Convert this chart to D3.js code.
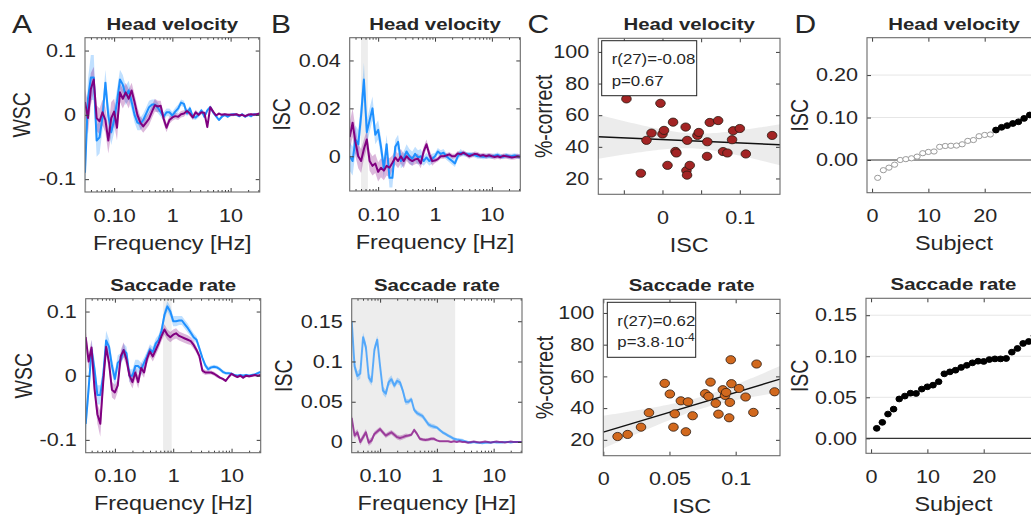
<!DOCTYPE html>
<html>
<head>
<meta charset="utf-8">
<script src="https://cdn.jsdelivr.net/npm/d3@7"></script>
<style>
body{margin:0;background:#fff}
text{font-family:"Liberation Sans",Arial,Helvetica,sans-serif;fill:#262626}
</style>
</head>
<body>
<svg id="fig" width="1031" height="519"></svg>
<script>
// ---- frequency grid (Hz) shared by the spectral panels ----
var freq = [0.0316,0.0355,0.0398,0.0447,0.0501,0.0562,0.0631,0.0708,0.0794,0.0891,
  0.1,0.112,0.126,0.141,0.158,0.178,0.2,0.224,0.251,0.282,
  0.316,0.355,0.398,0.447,0.501,0.562,0.631,0.708,0.794,0.891,
  1,1.12,1.26,1.41,1.58,1.78,2,2.24,2.51,2.82,
  3.16,3.55,3.98,4.47,5.01,5.62,6.31,7.08,7.94,8.91,
  10,11.2,12.6,14.1,15.8,17.8,20,22.4,25.1,28.2,31.6];
var freqTicks = [0.1, 1, 10];
var freqTickLabels = ["0.10", "1", "10"];

// A, head velocity: within-subject coherence
var hvWscBlue = [-0.09,0.025,0.058,0.058,-0.04,-0.035,-0.004,0.05,-0.001,-0.027,
  -0.008,0.02,0.055,0.047,0.03,0.038,0.02,0,-0.012,-0.014,
  -0.008,0.002,0.012,0.016,0.016,0.011,0.004,-0.003,0.004,0.004,
  -0.001,0.005,0.01,0.019,0.017,0.002,0.01,-0.003,-0.004,0,
  0.007,-0.003,0.007,0.012,0.004,-0.002,-0.008,-0.003,0,-0.003,
  0,0.001,0,-0.002,0.001,-0.003,0,-0.002,0.001,0,0.002];
var hvWscBlueErr = [0.03,0.03,0.035,0.035,0.025,0.025,0.02,0.02,0.02,0.02,
  0.02,0.02,0.015,0.015,0.015,0.015,0.012,0.012,0.012,0.01,
  0.01,0.01,0.01,0.008,0.008,0.008,0.007,0.007,0.006,0.006,
  0.006,0.006,0.006,0.005,0.005,0.005,0.004,0.004,0.004,0.004,
  0.003,0.003,0.003,0.003,0.003,0.002,0.002,0.002,0.002,0.002,
  0.002,0.002,0.002,0.002,0.002,0.002,0.002,0.002,0.002,0.002,0.002];
var hvWscPurple = [0.02,-0.005,0.04,0.055,-0.005,-0.01,0.004,-0.008,-0.04,-0.005,
  0.005,-0.02,0.035,0.025,0.035,0.025,0.038,0.02,0,-0.012,
  -0.018,-0.012,-0.006,0.005,0.015,0.013,0.014,-0.006,-0.02,-0.008,
  -0.004,-0.002,-0.003,0.001,0.002,0.006,0.002,-0.004,0.004,0,
  0.004,0.003,-0.019,0.012,0.005,-0.001,0.002,0,0.001,0,
  0,0,0.001,-0.001,0,-0.002,0,0.001,0,0.001,0.002];
var hvWscPurpleErr = [0.02,0.025,0.025,0.02,0.02,0.02,0.02,0.02,0.02,0.025,
  0.02,0.02,0.015,0.015,0.015,0.015,0.012,0.012,0.012,0.01,
  0.01,0.01,0.01,0.01,0.01,0.009,0.008,0.008,0.007,0.006,
  0.005,0.005,0.005,0.005,0.005,0.004,0.004,0.004,0.004,0.003,
  0.003,0.003,0.003,0.003,0.003,0.002,0.002,0.002,0.002,0.002,
  0.002,0.002,0.002,0.002,0.002,0.002,0.002,0.002,0.002,0.002,0.002];

// A, saccade rate: within-subject coherence
var srWscBlue = [-0.075,-0.02,0.041,0.01,-0.03,-0.03,0,0.055,0.045,0.015,
  -0.005,0.02,0.025,0.04,0.035,0,0,0.015,0.015,0.01,
  0.02,0.03,0.041,0.037,0.05,0.056,0.07,0.095,0.108,0.1,
  0.085,0.085,0.086,0.086,0.08,0.074,0.067,0.06,0.056,0.042,
  0.028,0.016,0.01,0.013,0.014,0.013,0.01,0.006,0.004,0.004,
  0.003,0.001,0,0.001,0,0.001,0,0.001,0.002,0.004,0.006];
var srWscBlueErr = [0.015,0.02,0.015,0.015,0.015,0.015,0.015,0.015,0.012,0.012,
  0.012,0.012,0.01,0.01,0.01,0.01,0.01,0.01,0.01,0.01,
  0.008,0.008,0.008,0.008,0.008,0.008,0.008,0.008,0.008,0.008,
  0.008,0.008,0.007,0.007,0.007,0.007,0.006,0.006,0.005,0.005,
  0.004,0.004,0.004,0.003,0.003,0.003,0.003,0.003,0.002,0.002,
  0.002,0.002,0.002,0.002,0.002,0.002,0.002,0.002,0.002,0.002,0.002];
var srWscPurple = [0.06,0.022,0.044,-0.02,-0.06,-0.075,-0.01,0.045,0.02,-0.022,
  -0.026,-0.015,0.03,0.04,0.025,0,-0.01,0.005,-0.01,0.012,
  0.005,0.026,0.038,0.03,0.04,0.05,0.062,0.072,0.064,0.06,
  0.064,0.066,0.062,0.06,0.058,0.056,0.054,0.048,0.04,0.03,
  0.008,0.005,0.005,0.005,0.003,0,-0.003,-0.005,-0.008,-0.002,
  0.003,0,-0.002,0,-0.003,0,-0.001,0,0.001,0,0.001];
var srWscPurpleErr = [0.012,0.012,0.012,0.012,0.015,0.02,0.015,0.012,0.012,0.012,
  0.012,0.01,0.01,0.012,0.01,0.01,0.01,0.01,0.01,0.008,
  0.008,0.008,0.008,0.008,0.008,0.008,0.008,0.008,0.008,0.008,
  0.008,0.008,0.007,0.007,0.007,0.007,0.006,0.006,0.005,0.005,
  0.004,0.004,0.003,0.003,0.003,0.003,0.002,0.002,0.002,0.002,
  0.002,0.002,0.002,0.002,0.002,0.002,0.002,0.002,0.002,0.002,0.002];

// B, head velocity: inter-subject correlation spectrum
var hvIscBlue = [0,-0.002,0.007,0.005,0.017,0.032,0.01,0.015,0.02,0.009,
  0.011,0.004,-0.005,0.005,-0.009,-0.009,0.004,0.006,-0.002,-0.001,
  0.002,0,-0.001,0.001,-0.0005,0,-0.002,-0.0005,-0.002,-0.001,
  0,0.002,0.001,0.0015,0,-0.001,-0.002,-0.003,0,0.0015,
  0.001,0.0008,0.0008,0.0007,0.0005,0,0,-0.0002,0,0,
  0,0.0002,0.0006,0,-0.0002,0.0004,0,0.0001,0.0003,0,-0.0002];
var hvIscBlueErr = [0.006,0.006,0.006,0.006,0.006,0.007,0.005,0.005,0.005,0.004,
  0.004,0.004,0.004,0.004,0.004,0.004,0.003,0.003,0.003,0.003,
  0.003,0.003,0.003,0.003,0.003,0.003,0.002,0.002,0.002,0.002,
  0.0015,0.0015,0.0015,0.0015,0.0015,0.0015,0.0015,0.0015,0.0015,0.0015,
  0.001,0.001,0.001,0.001,0.001,0.001,0.001,0.001,0.001,0.001,
  0.001,0.001,0.001,0.001,0.001,0.001,0.001,0.001,0.001,0.001,0.001];
var hvIscPurple = [0.008,0.014,0.006,0,-0.002,0.003,0.007,-0.002,-0.004,-0.003,
  -0.0065,-0.0048,-0.006,-0.004,-0.0048,-0.0027,-0.0005,-0.002,0,-0.002,
  0,-0.0013,-0.002,-0.0013,-0.001,-0.003,0.002,0.005,0.0008,-0.002,
  -0.0018,-0.0012,0,0,0.0003,0.0008,0,0,0.0012,0.0008,
  0.0015,0.0008,0,0.0005,0.001,0.0008,0.0002,0.0005,0,0.0004,
  0,-0.0003,0,-0.0004,0.0002,0,-0.0002,-0.0005,-0.0003,0,-0.0002];
var hvIscPurpleErr = [0.006,0.006,0.006,0.005,0.005,0.004,0.004,0.004,0.004,0.004,
  0.004,0.004,0.004,0.004,0.004,0.003,0.003,0.003,0.003,0.003,
  0.002,0.002,0.002,0.002,0.002,0.002,0.002,0.002,0.002,0.002,
  0.001,0.001,0.001,0.001,0.001,0.001,0.001,0.001,0.001,0.001,
  0.001,0.001,0.001,0.001,0.001,0.001,0.001,0.001,0.001,0.001,
  0.001,0.001,0.001,0.001,0.001,0.001,0.001,0.001,0.001,0.001,0.001];

// B, saccade rate: inter-subject correlation spectrum
var srIscBlue = [0.15,0.094,0.082,0.085,0.13,0.118,0.08,0.075,0.115,0.127,
  0.094,0.064,0.06,0.074,0.078,0.07,0.076,0.074,0.064,0.05,
  0.05,0.053,0.04,0.036,0.034,0.032,0.027,0.022,0.02,0.019,
  0.018,0.015,0.012,0.01,0.008,0.006,0.004,0.003,0.0025,0.002,
  0.001,0,-0.001,0,-0.001,-0.001,-0.0015,-0.001,-0.0005,-0.001,
  0,-0.0005,-0.0005,-0.0005,0,0,-0.0005,0,0,0,0];
var srIscBlueErr = [0.008,0.006,0.006,0.006,0.006,0.006,0.005,0.005,0.005,0.005,
  0.005,0.005,0.005,0.005,0.005,0.004,0.004,0.004,0.004,0.004,
  0.003,0.003,0.003,0.003,0.003,0.003,0.003,0.003,0.003,0.003,
  0.002,0.002,0.002,0.002,0.002,0.002,0.002,0.002,0.002,0.002,
  0.001,0.001,0.001,0.001,0.001,0.001,0.001,0.001,0.001,0.001,
  0.001,0.001,0.001,0.001,0.001,0.001,0.001,0.001,0.001,0.001,0.001];
var srIscPurple = [0.03,0.008,0.012,0,0.006,0.012,-0.001,0.002,0.01,0.013,
  0.016,0.012,0.008,0.01,0.012,0.009,0.006,0.005,0.006,0.0075,
  0.008,0.009,0.015,0.01,0.004,0.003,0.0025,0.003,0.004,0.004,
  0.002,0.001,0.001,0.001,0.001,0,0.001,0,0.001,0,
  0,-0.001,0,0.0005,0,-0.0005,0,0.0005,0,-0.0005,
  0,0.0005,0,0,-0.0005,0,0.0005,0,0,0,0];
var srIscPurpleErr = [0.005,0.004,0.004,0.004,0.004,0.004,0.004,0.004,0.003,0.003,
  0.003,0.003,0.003,0.003,0.003,0.003,0.003,0.003,0.003,0.003,
  0.002,0.002,0.002,0.002,0.002,0.002,0.002,0.002,0.002,0.002,
  0.001,0.001,0.001,0.001,0.001,0.001,0.001,0.001,0.001,0.001,
  0.001,0.001,0.001,0.001,0.001,0.001,0.001,0.001,0.001,0.001,
  0.001,0.001,0.001,0.001,0.001,0.001,0.001,0.001,0.001,0.001,0.001];

// C, ISC vs %-correct (29 subjects)
var hvIsc = [-0.0466,-0.0026,-0.028,-0.0207,-0.0142,0,0.002,0.0137,0.0065,0.0168,
  0.018,0.03,0.032,0.031,0.0318,0.0353,0.0452,0.047,0.058,0.0577,
  0.0612,0.072,0.0784,0.084,0.09,0.0914,0.1,0.1078,0.1418];
var hvCorrect = [70.3,67.5,23.3,44.1,48.7,48.1,50.4,55.6,28.3,37.1,
  36.1,52.5,44.1,25,22.1,28.3,47.2,49.1,43.2,34,
  55.4,56.6,37,36.1,44.5,50.2,51.6,35.5,47.2];
var srIsc = [0.0108,0.0184,0.0285,0.0345,0.0464,0.0503,0.054,0.053,0.0586,0.064,
  0.0624,0.0675,0.077,0.0795,0.081,0.085,0.087,0.0903,0.092,0.0928,
  0.0956,0.0951,0.0963,0.0968,0.1026,0.1075,0.1134,0.1158,0.1294];
var srCorrect = [22.1,23.4,28,37.1,55.6,48.9,36.4,28,44.6,44,
  25.1,35.2,49.1,47.4,56.4,43,36.2,51.6,48,49.9,
  43.6,33.9,70.5,55.4,52.4,47,37.3,67.8,50.3];
var hvStats = ["r(27)=-0.08", "p=0.67"];
var srStats = ["r(27)=0.62", "p=3.8\u00b710", "-4"];

// D, per-subject ISC (sorted)
var subjects = [1,2,3,4,5,6,7,8,9,10,11,12,13,14,15,16,17,18,19,20,21,22,23,24,25,26,27,28,29];
var hvSubjIsc = [-0.042,-0.024,-0.018,-0.011,0,0.002,0.004,0.008,0.016,0.019,
  0.02,0.031,0.033,0.0335,0.034,0.037,0.045,0.047,0.056,0.059,
  0.06,0.0706,0.077,0.081,0.086,0.09,0.098,0.106,0.115];
var hvSubjSig = [0,0,0,0,0,0,0,0,0,0,0,0,0,0,0,0,0,0,0,0,0,1,1,1,1,1,1,1,1];
var srSubjIsc = [0.0122,0.0195,0.0296,0.0356,0.048,0.0515,0.055,0.0547,0.06,0.0628,
  0.0648,0.069,0.0786,0.081,0.083,0.0864,0.089,0.092,0.094,0.0937,
  0.096,0.0968,0.0968,0.0973,0.105,0.1095,0.1156,0.118,0.125];
var srSubjSig = [1,1,1,1,1,1,1,1,1,1,1,1,1,1,1,1,1,1,1,1,1,1,1,1,1,1,1,1,1];
var subjTicks = [0, 10, 20, 30];
var subjTickLabels = ["0", "10", "20", ""];   // the 30 label falls outside the picture

var BLUE = "#1e90ff", PURPLE = "#800080";

var fig = d3.select("#fig");
var defs = fig.append("defs");
var clipCount = 0;

function clipFor(box) {
  var id = "clip" + (clipCount++);
  defs.append("clipPath").attr("id", id).append("rect")
    .attr("x", box[0]).attr("y", box[1])
    .attr("width", box[2] - box[0]).attr("height", box[3] - box[1]);
  return "url(#" + id + ")";
}

// text is drawn 20% wider than tall, like the source figure
function txt(x, y, s, size, o) {
  o = o || {};
  var t = fig.append("text")
    .attr("transform", "translate(" + x + "," + y + ") scale(1.2,1)" + (o.rot ? " rotate(-90)" : ""))
    .attr("text-anchor", o.anchor || "middle")
    .style("font-size", size + "px");
  if (o.bold) t.style("font-weight", "bold");
  t.text(s);
  return t;
}

function labelFmt(ticks, labels) {
  return function(d) { var i = ticks.indexOf(d); return i < 0 ? "" : labels[i]; };
}

function axes(box, x, y, o) {
  var g = fig.append("g").attr("color", "#3c3c3c");
  g.append("g").attr("transform", "translate(0," + box[3] + ")")
    .call(d3.axisBottom(x).tickValues(o.xTicks).tickFormat(labelFmt(o.xTicks, o.xLabels))
      .tickSizeInner(-4).tickSizeOuter(0).tickPadding(17));
  g.append("g").attr("transform", "translate(0," + box[1] + ")")
    .call(d3.axisTop(x).tickValues(o.xTicks).tickFormat(function() { return ""; })
      .tickSizeInner(-4).tickSizeOuter(0));
  g.append("g").attr("transform", "translate(" + box[0] + ",0)")
    .call(d3.axisLeft(y).tickValues(o.yTicks).tickFormat(labelFmt(o.yTicks, o.yLabels))
      .tickSizeInner(-4).tickSizeOuter(0).tickPadding(7.5));
  g.append("g").attr("transform", "translate(" + box[2] + ",0)")
    .call(d3.axisRight(y).tickValues(o.yTicks).tickFormat(function() { return ""; })
      .tickSizeInner(-4).tickSizeOuter(0));
  if (o.minor) {
    var minor = x.ticks().filter(function(d) { return o.xTicks.indexOf(d) < 0; });
    g.append("g").attr("transform", "translate(0," + box[3] + ")")
      .call(d3.axisBottom(x).tickValues(minor).tickFormat(function() { return ""; }).tickSizeInner(-2).tickSizeOuter(0));
    g.append("g").attr("transform", "translate(0," + box[1] + ")")
      .call(d3.axisTop(x).tickValues(minor).tickFormat(function() { return ""; }).tickSizeInner(-2).tickSizeOuter(0));
  }
  g.selectAll(".domain").remove();
  g.selectAll("text").style("font-size", "18px").attr("transform", "scale(1.2,1)");
  g.append("rect").attr("x", box[0]).attr("y", box[1])
    .attr("width", box[2] - box[0]).attr("height", box[3] - box[1])
    .attr("fill", "none").attr("stroke", "#6a6a6a").attr("stroke-width", 1.1);
}

function titles(box, title, xlab, ylab, ylabX) {
  var cx = (box[0] + box[2]) / 2;
  txt(cx, box[1] - 8, title, 17, {bold: true});
  txt(cx, box[3] + 57.5, xlab, 19.5);
  txt(ylabX, (box[1] + box[3]) / 2, ylab, 19.5, {rot: true});
}

function spectrumPanel(p) {
  var x = d3.scaleLog().domain([0.0316, 31.6]).range([p.box[0], p.box[2]]);
  var y = d3.scaleLinear().domain(p.yDom).range([p.box[3], p.box[1]]);
  var g = fig.append("g").attr("clip-path", clipFor(p.box));
  if (p.shade) {
    g.append("rect").attr("x", x(p.shade[0])).attr("y", p.box[1])
      .attr("width", x(p.shade[1]) - x(p.shade[0])).attr("height", p.box[3] - p.box[1])
      .attr("fill", "#ededed");
  }
  p.series.forEach(function(s) {
    var area = d3.area()
      .x(function(d, i) { return x(freq[i]); })
      .y0(function(d, i) { return y(d - s.err[i]); })
      .y1(function(d, i) { return y(d + s.err[i]); });
    g.append("path").datum(s.values).attr("d", area)
      .attr("fill", s.color).attr("fill-opacity", 0.28);
  });
  p.series.forEach(function(s) {
    var line = d3.line()
      .x(function(d, i) { return x(freq[i]); })
      .y(function(d) { return y(d); });
    g.append("path").datum(s.values).attr("d", line)
      .attr("fill", "none").attr("stroke", s.color)
      .attr("stroke-opacity", p.lineOpacity || 1)
      .attr("stroke-width", 2).attr("stroke-linejoin", "round");
  });
  axes(p.box, x, y, {xTicks: freqTicks, xLabels: freqTickLabels, yTicks: p.yTicks, yLabels: p.yLabels, minor: true});
  titles(p.box, p.title, "Frequency [Hz]", p.ylab, p.ylabX);
}

function scatterPanel(p) {
  var x = d3.scaleLinear().domain(p.xDom).range([p.box[0], p.box[2]]);
  var y = d3.scaleLinear().domain([10, 108.6]).range([p.box[3], p.box[1]]);
  var g = fig.append("g").attr("clip-path", clipFor(p.box));
  // least-squares fit with 95% confidence band
  var n = p.xs.length;
  var mx = d3.mean(p.xs), my = d3.mean(p.ys);
  var sxx = d3.sum(p.xs, function(v) { return (v - mx) * (v - mx); });
  var sxy = d3.sum(p.xs, function(v, i) { return (v - mx) * (p.ys[i] - my); });
  var b = sxy / sxx, a = my - b * mx;
  var sse = d3.sum(p.xs, function(v, i) { var r = p.ys[i] - (a + b * v); return r * r; });
  var se = Math.sqrt(sse / (n - 2)), tcrit = 2.052;
  var grid = d3.range(0, 61).map(function(k) { return p.xDom[0] + (p.xDom[1] - p.xDom[0]) * k / 60; });
  var half = function(v) { return tcrit * se * Math.sqrt(1 / n + (v - mx) * (v - mx) / sxx); };
  g.append("path").datum(grid)
    .attr("d", d3.area().x(function(v) { return x(v); })
      .y0(function(v) { return y(a + b * v - half(v)); })
      .y1(function(v) { return y(a + b * v + half(v)); }))
    .attr("fill", "#e6e6e6").attr("fill-opacity", 0.75);
  g.append("line").attr("x1", x(p.xDom[0])).attr("x2", x(p.xDom[1]))
    .attr("y1", y(a + b * p.xDom[0])).attr("y2", y(a + b * p.xDom[1]))
    .attr("stroke", "#111").attr("stroke-width", 1.4);
  g.selectAll("ellipse").data(p.xs).enter().append("ellipse")
    .attr("cx", function(d) { return x(d); })
    .attr("cy", function(d, i) { return y(p.ys[i]); })
    .attr("rx", 4.8).attr("ry", 4.1)
    .attr("fill", p.color).attr("stroke", "#2a1a12").attr("stroke-width", 0.8);
  axes(p.box, x, y, {xTicks: p.xTicks, xLabels: p.xLabels, yTicks: [20, 40, 60, 80, 100], yLabels: ["20", "40", "60", "80", "100"]});
  titles(p.box, p.title, "ISC", "%-correct", p.ylabX);
  // statistics box
  var lb = p.legend;
  fig.append("rect").attr("x", lb[0]).attr("y", lb[1]).attr("width", lb[2]).attr("height", lb[3])
    .attr("fill", "#fff").attr("stroke", "#222").attr("stroke-width", 1);
  txt(lb[0] + 10, lb[1] + 23.5, p.stats[0], 14, {anchor: "start"});
  var t2 = txt(lb[0] + 10, lb[1] + 45, p.stats[1], 14, {anchor: "start"});
  if (p.stats[2]) {
    t2.append("tspan").attr("dy", -6).style("font-size", "10px").text(p.stats[2]);
  }
}

function subjectPanel(p) {
  var x = d3.scaleLinear().domain([-0.9, 30]).range([p.box[0], p.box[0] + 174]);
  var y = d3.scaleLinear().domain(p.yDom).range([p.box[3], p.box[1]]);
  var g = fig.append("g").attr("clip-path", clipFor(p.box));
  p.yTicks.forEach(function(t) {
    g.append("line").attr("x1", p.box[0]).attr("x2", p.box[2])
      .attr("y1", y(t)).attr("y2", y(t))
      .attr("stroke", t === 0 ? "#333" : "#e6e6e6").attr("stroke-width", t === 0 ? 1.2 : 1);
  });
  g.selectAll("ellipse").data(p.values).enter().append("ellipse")
    .attr("cx", function(d, i) { return x(subjects[i]); })
    .attr("cy", function(d) { return y(d); })
    .attr("rx", function(d, i) { return p.sig[i] ? 3.3 : 3.1; })
    .attr("ry", function(d, i) { return p.sig[i] ? 2.9 : 2.6; })
    .attr("fill", function(d, i) { return p.sig[i] ? "#000" : "#fff"; })
    .attr("stroke", function(d, i) { return p.sig[i] ? "#000" : "#9a9a9a"; })
    .attr("stroke-width", 1);
  axes(p.box, x, y, {xTicks: subjTicks, xLabels: subjTickLabels, yTicks: p.yTicks, yLabels: p.yLabels});
  titles(p.box, p.title, "Subject", "ISC", p.ylabX);
}

// ---- panels ----
spectrumPanel({box: [85, 37.7, 259.7, 192], yDom: [-0.12, 0.12],
  yTicks: [-0.1, 0, 0.1], yLabels: ["-0.1", "0", "0.1"],
  series: [{values: hvWscBlue, err: hvWscBlueErr, color: BLUE}, {values: hvWscPurple, err: hvWscPurpleErr, color: PURPLE}],
  title: "Head velocity", ylab: "WSC", ylabX: 30});
spectrumPanel({box: [85.7, 298.7, 260.7, 452.7], yDom: [-0.12, 0.12], shade: [0.67, 0.94],
  yTicks: [-0.1, 0, 0.1], yLabels: ["-0.1", "0", "0.1"],
  series: [{values: srWscBlue, err: srWscBlueErr, color: BLUE}, {values: srWscPurple, err: srWscPurpleErr, color: PURPLE}],
  title: "Saccade rate", ylab: "WSC", ylabX: 31.5});
spectrumPanel({box: [349.7, 37.7, 520.3, 191], yDom: [-0.0145, 0.0495], shade: [0.05, 0.066],
  yTicks: [0, 0.02, 0.04], yLabels: ["0", "0.02", "0.04"],
  series: [{values: hvIscBlue, err: hvIscBlueErr, color: BLUE}, {values: hvIscPurple, err: hvIscPurpleErr, color: PURPLE}],
  title: "Head velocity", ylab: "ISC", ylabX: 290});
spectrumPanel({box: [351.7, 298.7, 522, 452.7], yDom: [-0.0133, 0.178], shade: [0.0316, 2.1],
  yTicks: [0, 0.05, 0.1, 0.15], yLabels: ["0", "0.05", "0.1", "0.15"], lineOpacity: 0.65,
  series: [{values: srIscBlue, err: srIscBlueErr, color: BLUE}, {values: srIscPurple, err: srIscPurpleErr, color: PURPLE}],
  title: "Saccade rate", ylab: "ISC", ylabX: 292});

scatterPanel({box: [598.3, 38.3, 780, 194.3], xDom: [-0.083, 0.152],
  xTicks: [-0.05, 0, 0.05, 0.1], xLabels: ["", "0", "", "0.1"],
  xs: hvIsc, ys: hvCorrect, color: "#a32424", stats: hvStats,
  legend: [601.7, 40.7, 95, 55], title: "Head velocity", ylabX: 552});
scatterPanel({box: [603.3, 299.3, 780, 455.7], xDom: [0, 0.1335],
  xTicks: [0, 0.05, 0.1], xLabels: ["0", "0.05", "0.1"],
  xs: srIsc, ys: srCorrect, color: "#d2691e", stats: srStats,
  legend: [607.3, 302.3, 88.4, 55], title: "Saccade rate", ylabX: 553});

subjectPanel({box: [867, 37.7, 1041, 192.7], yDom: [-0.077, 0.288],
  yTicks: [0, 0.1, 0.2], yLabels: ["0.00", "0.10", "0.20"],
  values: hvSubjIsc, sig: hvSubjSig, title: "Head velocity", ylabX: 808});
subjectPanel({box: [866, 298.3, 1041, 453.3], yDom: [-0.0182, 0.1706],
  yTicks: [0, 0.05, 0.1, 0.15], yLabels: ["0.00", "0.05", "0.10", "0.15"],
  values: srSubjIsc, sig: srSubjSig, title: "Saccade rate", ylabX: 808});

// panel letters
txt(12, 33.3, "A", 25, {anchor: "start"});
txt(271, 33.3, "B", 25, {anchor: "start"});
txt(527.5, 33.3, "C", 25, {anchor: "start"});
txt(794.5, 33.3, "D", 25, {anchor: "start"});
</script>
</body>
</html>
